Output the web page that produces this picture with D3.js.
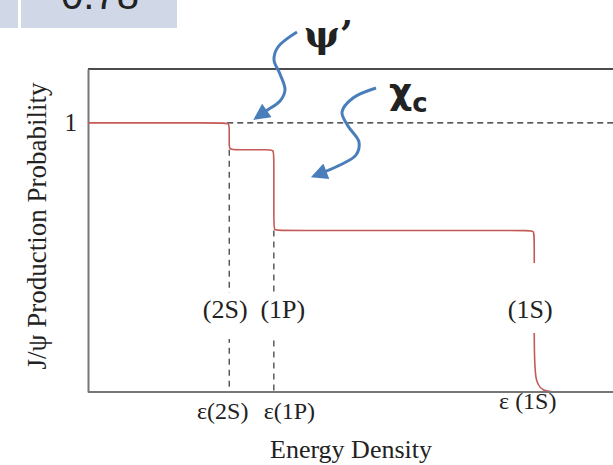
<!DOCTYPE html>
<html>
<head>
<meta charset="utf-8">
<script src="https://cdn.jsdelivr.net/npm/d3@7"></script>
<style>
  body { margin: 0; background: #fff; }
  text { font-family: "Liberation Serif", "Times New Roman", serif; fill: #222; }
</style>
</head>
<body>
<svg class="chart"></svg>
<script>
var width = 613,
    height = 465;

// thresholds (energy density, arbitrary units) and their labels
var states = ["(2S)", "(1P)", "(1S)"];
var thresholds = [2.69, 3.54, 8.5];
var tickLabels = ["ε(2S)", "ε(1P)", "ε (1S)"];
var probLevels = [1, 0.9, 0.6, 0];

// suppression curve
var curveX = [0, 2.58, 2.69, 2.69, 2.69, 2.69, 2.80, 3.43, 3.54, 3.54, 3.54, 3.54, 3.65, 8.38, 8.5, 8.5, 8.5, 8.5, 8.75, 9.0];
var curveY = [1, 1, 1, 0.975, 0.925, 0.9, 0.9, 0.9, 0.9, 0.875, 0.625, 0.6, 0.6, 0.6, 0.6, 0.57, 0.2, 0.02, 0, 0];

var yTicks = [1];

var margin = {left: 88, right: 0, top: 69, bottom: 73};

var x = d3.scaleLinear()
    .domain([0, 10])
    .range([margin.left, width - margin.right]);

var y = d3.scaleLinear()
    .domain([0, 1.2])
    .range([height - margin.bottom, margin.top]);

var chart = d3.select(".chart")
    .attr("width", width)
    .attr("height", height);

// slide header boxes at the top left (cut off in the original too)
chart.append("rect").attr("x", 0).attr("y", 0).attr("width", 18).attr("height", 28).attr("fill", "#d0d8e8");
chart.append("rect").attr("x", 21).attr("y", 0).attr("width", 156).attr("height", 28).attr("fill", "#d0d8e8");
chart.append("text")
    .attr("x", 100).attr("y", 9)
    .attr("text-anchor", "middle")
    .style("font-family", "'Liberation Sans', Arial, sans-serif")
    .style("font-size", "40px")
    .text("0.78");

// frame: top line, left + bottom axes
chart.append("line")
    .attr("x1", x(0)).attr("x2", width)
    .attr("y1", y(1.2)).attr("y2", y(1.2))
    .attr("stroke", "#111").attr("stroke-width", 1.3);

var yAxis = d3.axisLeft(y).tickValues(yTicks).tickSize(0).tickPadding(11).tickFormat(d3.format("d"));
var gy = chart.append("g")
    .attr("transform", "translate(" + x(0) + ",0)")
    .call(yAxis);
gy.select(".domain").attr("stroke", "#777").attr("stroke-width", 2);
gy.selectAll("text")
    .style("font-family", "'Liberation Serif', serif")
    .style("font-size", "25px")
    .attr("fill", "#222");

// dashed reference line at probability 1
chart.append("line")
    .attr("x1", x(thresholds[0]) - 2).attr("x2", width)
    .attr("y1", y(1)).attr("y2", y(1))
    .attr("stroke", "#222").attr("stroke-width", 1.2)
    .attr("stroke-dasharray", "6,4");

// vertical dashed lines at the first two thresholds
var vlines = [0, 1];
chart.selectAll(".vline")
    .data(vlines)
  .enter().append("line")
    .attr("class", "vline")
    .attr("x1", function(i) { return x(thresholds[i]); })
    .attr("x2", function(i) { return x(thresholds[i]); })
    .attr("y1", function(i) { return y(probLevels[i + 1]); })
    .attr("y2", y(0))
    .attr("stroke", "#333").attr("stroke-width", 1.2)
    .attr("stroke-dasharray", "6,5");

// the curve
var pts = curveX.map(function(d, i) { return [d, curveY[i]]; });
var line = d3.line()
    .x(function(d) { return x(d[0]); })
    .y(function(d) { return y(d[1]); })
    .curve(d3.curveBasis);

chart.append("path")
    .datum(pts)
    .attr("fill", "none")
    .attr("stroke", "#c45a57")
    .attr("stroke-width", 1.6)
    .attr("d", line);

// bottom axis
var xAxis = d3.axisBottom(x)
    .tickValues(thresholds)
    .tickSize(0)
    .tickFormat(function(d, i) { return tickLabels[i]; });
var gx = chart.append("g")
    .attr("transform", "translate(0," + y(0) + ")")
    .call(xAxis);
gx.select(".domain").attr("stroke", "#777").attr("stroke-width", 2)
    .attr("d", "M" + x(0) + ",0H" + width);
var tickDx = [-7, 15, -7],
    tickY = [27, 27, 17];
gx.selectAll("text")
    .style("font-family", "'Liberation Serif', serif")
    .style("font-size", "24px")
    .attr("fill", "#222")
    .attr("dy", null)
    .attr("x", function(d, i) { return tickDx[i]; })
    .attr("y", function(d, i) { return tickY[i]; });

// state labels with white gaps cut into the lines
var labelDx = [-4, 9, -4],
    gapTop = [293, 293, 263],
    gapBottom = [339, 339, 333];
chart.selectAll(".gap")
    .data(states)
  .enter().append("rect")
    .attr("class", "gap")
    .attr("x", function(d, i) { return x(thresholds[i]) - 4; })
    .attr("width", 8)
    .attr("y", function(d, i) { return gapTop[i]; })
    .attr("height", function(d, i) { return gapBottom[i] - gapTop[i]; })
    .attr("fill", "#fff");

chart.selectAll(".state")
    .data(states)
  .enter().append("text")
    .attr("class", "state")
    .attr("x", function(d, i) { return x(thresholds[i]) + labelDx[i]; })
    .attr("y", 318)
    .attr("text-anchor", "middle")
    .style("font-size", "26px")
    .text(function(d) { return d; });

// axis titles
chart.append("text")
    .attr("x", 351).attr("y", 458)
    .attr("text-anchor", "middle")
    .style("font-size", "26px")
    .text("Energy Density");

chart.append("text")
    .attr("transform", "translate(46,226) rotate(-90)")
    .attr("text-anchor", "middle")
    .style("font-size", "27px")
    .text("J/ψ Production Probability");

// blue annotations
var blue = "#4a7ebb";
var defs = chart.append("defs");
defs.append("marker")
    .attr("id", "head")
    .attr("viewBox", "0 0 10 10")
    .attr("refX", 8).attr("refY", 5)
    .attr("markerWidth", 6).attr("markerHeight", 5.5)
    .attr("markerUnits", "strokeWidth")
    .attr("orient", "auto")
  .append("path")
    .attr("d", "M0,0L10,5L0,10z")
    .attr("fill", blue);

var arrowLine = d3.line().curve(d3.curveCatmullRom.alpha(0.5));
var psiArrow = [[297, 32], [278, 47], [274, 60], [280, 74], [285, 90], [280, 101], [266, 111], [256, 118]];
var chiArrow = [[376, 88], [353, 98], [342, 112], [348, 126], [359, 142], [356, 155], [340, 165], [314, 176]];

[psiArrow, chiArrow].forEach(function(p) {
  chart.append("path")
      .attr("d", arrowLine(p))
      .attr("fill", "none")
      .attr("stroke", blue)
      .attr("stroke-width", 3)
      .attr("marker-end", "url(#head)");
});

chart.append("text")
    .attr("x", 304).attr("y", 47)
    .style("font-family", "'DejaVu Serif', serif")
    .style("font-size", "38px")
    .style("font-weight", "bold")
    .attr("fill", blue)
    .text("ψ’");

var chi = chart.append("text")
    .attr("x", 389).attr("y", 104)
    .style("font-family", "'DejaVu Sans', sans-serif")
    .style("font-size", "36px")
    .style("font-weight", "bold")
    .attr("fill", blue);
chi.append("tspan").text("χ");
chi.append("tspan").attr("dy", 8).style("font-size", "26px").text("c");
</script>
</body>
</html>
